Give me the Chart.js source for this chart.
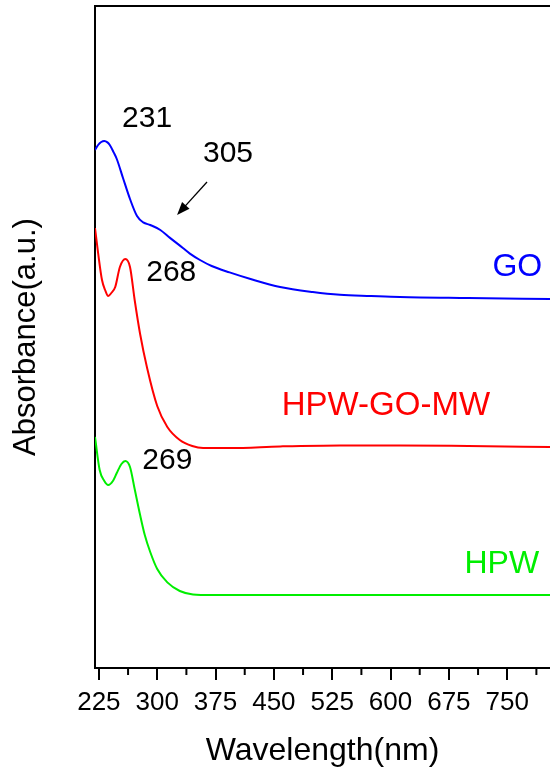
<!DOCTYPE html>
<html>
<head>
<meta charset="utf-8">
<script src="https://cdn.jsdelivr.net/npm/chart.js@4"></script>
<style>
  html, body { margin: 0; padding: 0; background: #fff; }
  #wrap { width: 550px; height: 772px; }
</style>
</head>
<body>
<div id="wrap"><canvas id="uvChart" width="550" height="772"></canvas></div>
<script>
// wavelength (nm) and absorbance (a.u., offset)
var goNm  = [220, 224, 228, 232, 236, 239, 244, 248, 256, 265, 274, 282, 291, 304, 316, 333, 342, 355, 370, 393, 420, 458, 500, 535, 575, 612, 700, 805];
var goAbs = [2.590, 2.615, 2.630, 2.635, 2.628, 2.615, 2.578, 2.545, 2.450, 2.345, 2.260, 2.228, 2.215, 2.190, 2.152, 2.100, 2.072, 2.040, 2.010, 1.978, 1.945, 1.905, 1.880, 1.866, 1.860, 1.855, 1.850, 1.845];

var mwNm  = [220, 224, 229, 233, 237, 241, 246, 252, 259, 265, 271, 278, 287, 300, 313, 329, 345, 359, 394, 458, 535, 612, 700, 805];
var mwAbs = [2.200, 2.075, 1.940, 1.890, 1.860, 1.875, 1.905, 2.005, 2.045, 2.005, 1.840, 1.670, 1.500, 1.310, 1.205, 1.140, 1.110, 1.100, 1.100, 1.108, 1.113, 1.113, 1.110, 1.105];

var hpwNm  = [220, 226, 232, 237, 243, 248, 254, 259, 265, 271, 278, 284, 291, 300, 313, 329, 346, 370, 500, 650, 805];
var hpwAbs = [1.155, 0.990, 0.935, 0.915, 0.935, 0.975, 1.020, 1.035, 1.005, 0.895, 0.765, 0.665, 0.580, 0.495, 0.428, 0.385, 0.368, 0.365, 0.365, 0.365, 0.365];

var majorTicks = [225, 300, 375, 450, 525, 600, 675, 750];
var minorTicks = [262.5, 337.5, 412.5, 487.5, 562.5, 637.5, 712.5, 787.5];

// text notes placed in data coordinates
var notes = [
    { text: '231', x: 287, y: 2.745, color: '#000', size: 30 },
    { text: '305', x: 391, y: 2.57, color: '#000', size: 30 },
    { text: '268', x: 318, y: 1.975, color: '#000', size: 30 },
    { text: '269', x: 313, y: 1.035, color: '#000', size: 30 },
    { text: 'GO', x: 763, y: 2.005, color: '#0000ff', size: 32 },
    { text: 'HPW-GO-MW', x: 594, y: 1.31, color: '#ff0000', size: 33 },
    { text: 'HPW', x: 743, y: 0.52, color: '#00ee00', size: 32 }
];
var arrow = { x0: 364, y0: 2.43, x1: 325.5, y1: 2.265 };

function toXY(xs, ys) {
    return xs.map(function (x, i) { return { x: x, y: ys[i] }; });
}

var FONT = '"Liberation Sans", Arial, sans-serif';

var extras = {
    id: 'extras',
    afterDraw: function (chart) {
        var ctx = chart.ctx, xs = chart.scales.x, ys = chart.scales.y, area = chart.chartArea;
        ctx.save();
        // top frame line
        ctx.strokeStyle = '#000';
        ctx.lineWidth = 2;
        ctx.beginPath();
        ctx.moveTo(area.left, area.top);
        ctx.lineTo(area.right, area.top);
        ctx.stroke();
        // minor ticks
        minorTicks.forEach(function (v) {
            var px = xs.getPixelForValue(v);
            ctx.beginPath();
            ctx.moveTo(px, area.bottom);
            ctx.lineTo(px, area.bottom + 7);
            ctx.stroke();
        });
        // notes
        ctx.textAlign = 'center';
        ctx.textBaseline = 'middle';
        notes.forEach(function (n) {
            ctx.fillStyle = n.color;
            ctx.font = n.size + 'px ' + FONT;
            ctx.fillText(n.text, xs.getPixelForValue(n.x), ys.getPixelForValue(n.y));
        });
        // arrow
        var ax0 = xs.getPixelForValue(arrow.x0), ay0 = ys.getPixelForValue(arrow.y0);
        var ax1 = xs.getPixelForValue(arrow.x1), ay1 = ys.getPixelForValue(arrow.y1);
        var ang = Math.atan2(ay1 - ay0, ax1 - ax0);
        ctx.lineWidth = 1.3;
        ctx.beginPath();
        ctx.moveTo(ax0, ay0);
        ctx.lineTo(ax1 - 8 * Math.cos(ang), ay1 - 8 * Math.sin(ang));
        ctx.stroke();
        ctx.fillStyle = '#000';
        ctx.beginPath();
        ctx.moveTo(ax1, ay1);
        ctx.lineTo(ax1 - 13 * Math.cos(ang) + 5 * Math.sin(ang), ay1 - 13 * Math.sin(ang) - 5 * Math.cos(ang));
        ctx.lineTo(ax1 - 13 * Math.cos(ang) - 5 * Math.sin(ang), ay1 - 13 * Math.sin(ang) + 5 * Math.cos(ang));
        ctx.closePath();
        ctx.fill();
        ctx.restore();
    }
};

function lineSet(label, xs, ys, color) {
    return {
        label: label,
        data: toXY(xs, ys),
        borderColor: color,
        borderWidth: 2,
        pointRadius: 0,
        fill: false,
        cubicInterpolationMode: 'monotone'
    };
}

new Chart(document.getElementById('uvChart').getContext('2d'), {
    type: 'line',
    data: {
        datasets: [
            lineSet('GO', goNm, goAbs, '#0000ff'),
            lineSet('HPW-GO-MW', mwNm, mwAbs, '#ff0000'),
            lineSet('HPW', hpwNm, hpwAbs, '#00ee00')
        ]
    },
    options: {
        responsive: false,
        animation: false,
        layout: { padding: { top: 6, right: 0, left: 0, bottom: 0 } },
        plugins: { legend: { display: false }, tooltip: { enabled: false } },
        scales: {
            x: {
                type: 'linear',
                min: 220,
                max: 805,
                afterBuildTicks: function (s) {
                    s.ticks = majorTicks.map(function (v) { return { value: v }; });
                },
                afterFit: function (s) { s.height = 104; },
                grid: { display: true, drawOnChartArea: false, drawTicks: true, tickLength: 12, lineWidth: 2, color: '#000' },
                border: { display: true, color: '#000', width: 2 },
                ticks: { color: '#000', padding: 7, maxRotation: 0, autoSkip: false, font: { family: FONT, size: 26 } },
                title: { display: true, text: 'Wavelength(nm)', color: '#000', padding: { top: 2, bottom: 2 }, font: { family: FONT, size: 32 } }
            },
            y: {
                type: 'linear',
                min: 0,
                max: 3.31,
                afterFit: function (s) { s.width = 95; },
                grid: { display: false },
                border: { display: true, color: '#000', width: 2 },
                ticks: { display: false },
                title: { display: true, text: 'Absorbance(a.u.)', color: '#000', padding: { top: 8, bottom: 0 }, font: { family: FONT, size: 31 } }
            }
        }
    },
    plugins: [extras]
});
</script>
</body>
</html>
